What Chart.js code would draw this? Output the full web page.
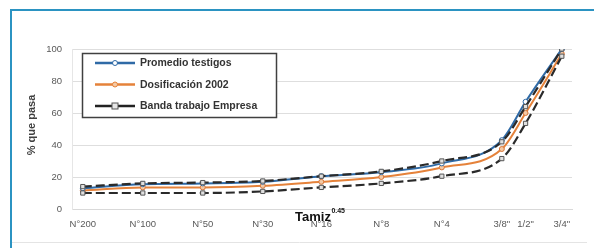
<!DOCTYPE html>
<html><head><meta charset="utf-8">
<script src="https://cdn.jsdelivr.net/npm/chart.js@4/dist/chart.umd.min.js"></script>
<style>html,body{margin:0;padding:0;background:#fff;}canvas{display:block;}</style>
</head><body>
<canvas id="c" width="594" height="248"></canvas>
<script>
const sieveLabels = ["N°200","N°100","N°50","N°30","N°16","N°8","N°4","3/8\"","1/2\"","3/4\""];
const sieveSizesMm = [0.075,0.15,0.3,0.6,1.18,2.36,4.75,9.5,12.5,19];
const promedioTestigos = [13,15.5,16,17,20.5,23,28.5,43,67,100];
const dosificacion2002 = [11.5,13.5,13.5,14.5,17,20,26,37.5,60,97];
const bandaSuperior = [14,16,16.5,17.5,20.5,23.5,30,42,64,100];
const bandaInferior = [10,10,10,11,13.5,16,20.5,31.5,53.5,95.5];
const yTicks = [0,20,40,60,80,100];

const xs = sieveSizesMm.map(s => Math.log2(s));
const pts = arr => arr.map((v,i) => ({x: xs[i], y: v}));

const FONT = "'Liberation Sans', Arial, sans-serif";

const legendItems = [
  {label:"Promedio testigos", color:"#2f6aa6", marker:"circle", fill:"#ffffff"},
  {label:"Dosificación 2002", color:"#e5823a", marker:"circle", fill:"#f4c9a4"},
  {label:"Banda trabajo Empresa", color:"#222222", marker:"rect", fill:"#e6e6e6"}
];

const decor = {
  id:'decor',
  beforeDraw(chart){
    const ctx = chart.ctx;
    ctx.save();
    ctx.fillStyle = '#fff';
    ctx.fillRect(0,0,chart.width,chart.height);
    ctx.strokeStyle = '#e4e4e4'; ctx.lineWidth = 1;
    ctx.beginPath(); ctx.moveTo(12,242.5); ctx.lineTo(587,242.5); ctx.stroke();
    ctx.strokeStyle = '#2b93c2'; ctx.lineWidth = 2;
    ctx.beginPath(); ctx.moveTo(11,248); ctx.lineTo(11,10); ctx.lineTo(594,10); ctx.stroke();
    ctx.restore();
  },
  afterDraw(chart){
    const ctx = chart.ctx;
    ctx.save();
    ctx.fillStyle = '#404040';
    ctx.font = "bold 11px " + FONT;
    ctx.translate(32,125); ctx.rotate(-Math.PI/2);
    ctx.textAlign='center'; ctx.textBaseline='middle';
    ctx.fillText('% que pasa',0,0);
    ctx.setTransform(1,0,0,1,0,0);
    ctx.fillStyle = '#111';
    ctx.font = "bold 13px " + FONT;
    ctx.textAlign='left'; ctx.textBaseline='alphabetic';
    ctx.fillText('Tamiz',295,221);
    const w = ctx.measureText('Tamiz').width;
    ctx.font = "bold 7px " + FONT;
    ctx.fillText('0.45',295+w+0.5,213);
    const L=82.5,T=53.5,W=194,H=64;
    ctx.fillStyle='#fff'; ctx.fillRect(L,T,W,H);
    ctx.strokeStyle='#404040'; ctx.lineWidth=1.5; ctx.strokeRect(L,T,W,H);
    const rows=[63,84.5,106];
    legendItems.forEach((it,i)=>{
      const y=rows[i];
      ctx.strokeStyle=it.color; ctx.lineWidth=2.5; ctx.setLineDash([]);
      ctx.beginPath(); ctx.moveTo(95,y); ctx.lineTo(135,y); ctx.stroke();
      ctx.lineWidth=1;
      ctx.fillStyle=it.fill;
      if(it.marker==='circle'){
        ctx.beginPath(); ctx.arc(115,y,2.5,0,Math.PI*2); ctx.fill(); ctx.stroke();
      } else {
        ctx.strokeStyle='#555';
        ctx.fillRect(112,y-3,6,6); ctx.strokeRect(112,y-3,6,6);
      }
      ctx.fillStyle='#333'; ctx.font="bold 10.5px "+FONT;
      ctx.textAlign='left'; ctx.textBaseline='middle';
      ctx.fillText(it.label,140,y+0.5);
    });
    ctx.restore();
  }
};

new Chart(document.getElementById('c'), {
  type:'line',
  data:{
    datasets:[
      {label:"Promedio testigos", data:pts(promedioTestigos), borderColor:"#2f6aa6", borderWidth:2,
       pointStyle:'circle', pointRadius:2.5, pointBackgroundColor:'#ffffff', pointBorderColor:'#2f6aa6', pointBorderWidth:1, order:1},
      {label:"Dosificación 2002", data:pts(dosificacion2002), borderColor:"#e5823a", borderWidth:2,
       pointStyle:'circle', pointRadius:2.5, pointBackgroundColor:'#f4c9a4', pointBorderColor:'#d9773a', pointBorderWidth:1, order:2},
      {label:"Banda trabajo Empresa", data:pts(bandaSuperior), borderColor:"#2a2a2a", borderWidth:2.2, borderDash:[9,4],
       pointStyle:'rect', pointRadius:3, pointBackgroundColor:'#e0e0e0', pointBorderColor:'#555', pointBorderWidth:1, order:0},
      {label:"Banda inferior", data:pts(bandaInferior), borderColor:"#2a2a2a", borderWidth:2.2, borderDash:[9,4],
       pointStyle:'rect', pointRadius:3, pointBackgroundColor:'#e0e0e0', pointBorderColor:'#555', pointBorderWidth:1, order:0}
    ]
  },
  options:{
    responsive:false, animation:false, devicePixelRatio:1,
    layout:{padding:{left:0, top:49, right:22, bottom:0}},
    elements:{line:{cubicInterpolationMode:'monotone', fill:false}},
    plugins:{legend:{display:false}, tooltip:{enabled:false}},
    scales:{
      x:{type:'linear', min:xs[0]-0.18, max:xs[xs.length-1]+0.17,
         afterFit(s){ s.height = 39; },
         afterBuildTicks(s){ s.ticks = xs.map(v=>({value:v})); },
         ticks:{autoSkip:false, maxRotation:0, minRotation:0, padding:10, color:'#595959',
                font:{family:FONT, size:9.5},
                callback:(v,i)=>sieveLabels[i]},
         grid:{display:false, drawTicks:false},
         border:{display:true, color:'#d9d9d9', width:1}},
      y:{min:0, max:100,
         afterFit(s){ s.width = 72; },
         afterBuildTicks(s){ s.ticks = yTicks.map(v=>({value:v})); },
         ticks:{padding:10, color:'#595959', font:{family:FONT, size:9.5}},
         grid:{color:'#dedede', lineWidth:1, drawTicks:false},
         border:{display:true, color:'#e6e6e6', width:1}}
    }
  },
  plugins:[decor]
});
</script>
</body></html>
